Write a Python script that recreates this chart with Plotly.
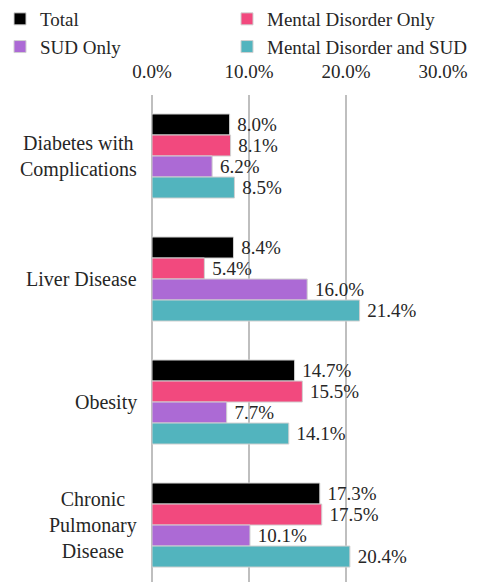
import plotly.graph_objects as go

categories = ["Diabetes with<br>Complications", "Liver Disease", "Obesity", "Chronic<br>Pulmonary<br>Disease"]
series_names = ["Total", "Mental Disorder Only", "SUD Only", "Mental Disorder and SUD"]
total = [8.0, 8.4, 14.7, 17.3]
mental_only = [8.1, 5.4, 15.5, 17.5]
sud_only = [6.2, 16.0, 7.7, 10.1]
mental_and_sud = [8.5, 21.4, 14.1, 20.4]
tick_vals = [0, 10, 20, 30]
tick_text = ["0.0%", "10.0%", "20.0%", "30.0%"]

series_values = [total, mental_only, sud_only, mental_and_sud]
colors = ["#000000", "#F2497E", "#AC6AD5", "#52B4BE"]
legend_ids = ["legend", "legend2", "legend", "legend2"]

FONT = "Liberation Serif, Tinos, Times New Roman, Times, serif"
TXT = "#262626"

fig = go.Figure()
for name, vals, col, lg in zip(series_names, series_values, colors, legend_ids):
    fig.add_trace(go.Bar(
        y=categories, x=vals, name=name, orientation="h", legend=lg,
        marker=dict(color=col, line=dict(color="#D0D0D0", width=1)),
        texttemplate="\u00a0%{x:.1f}%", textposition="outside",
        textfont=dict(family=FONT, size=19, color=TXT),
        constraintext="none", cliponaxis=False,
    ))

for c in categories:
    fig.add_annotation(x=0, xref="paper", y=c, yref="y", xanchor="right",
                       xshift=-13, text=c, showarrow=False, align="center",
                       font=dict(family=FONT, size=20, color=TXT))

leg_common = dict(orientation="v", xref="container", yref="container",
                  xanchor="left", yanchor="top", y=1.007,
                  traceorder="normal", font=dict(family=FONT, size=19, color=TXT),
                  itemwidth=30, tracegroupgap=0, bgcolor="rgba(0,0,0,0)")

fig.update_layout(
    width=482, height=582,
    margin=dict(l=152, r=39, t=95, b=0, autoexpand=False),
    paper_bgcolor="white", plot_bgcolor="white",
    barmode="group", bargap=0.317, bargroupgap=0,
    font=dict(family=FONT, size=19, color=TXT),
    legend=dict(x=0.0, **leg_common),
    legend2=dict(x=227 / 482, **leg_common),
    xaxis=dict(side="top", range=[0, 30], tickvals=tick_vals, ticktext=tick_text,
               showgrid=True, gridcolor="#BFBFBF", gridwidth=2,
               zeroline=True, zerolinecolor="#BFBFBF", zerolinewidth=2,
               showline=False, ticks="", ticklabelstandoff=12, automargin=False,
               tickfont=dict(family=FONT, size=19, color=TXT)),
    yaxis=dict(categoryorder="array", categoryarray=categories, automargin=False,
               range=[3.463, -0.496], showticklabels=False, showgrid=False,
               zeroline=False, showline=False, ticks=""),
)

fig.write_html("out.html")
